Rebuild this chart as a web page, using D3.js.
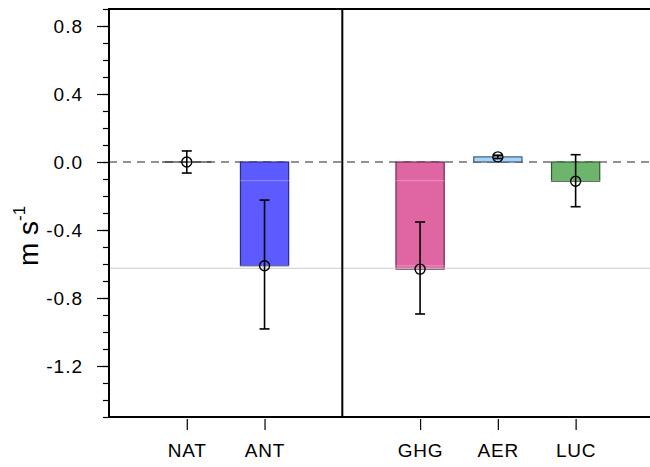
<!DOCTYPE html>
<html><head><meta charset="utf-8">
<script src="https://cdn.jsdelivr.net/npm/d3@7"></script>
<style>body{margin:0;background:#fff}svg{display:block}text{font-family:"Liberation Sans",Arial,sans-serif}</style>
</head><body><svg id="c" width="650" height="467"></svg>
<script>
const categories = ["NAT","ANT","GHG","AER","LUC"];
const positions = [1,2,4,5,6];
const values = [0.0,-0.61,-0.63,0.03,-0.113];
const errLow = [-0.065,-0.982,-0.894,0.02,-0.263];
const errHigh = [0.065,-0.224,-0.353,0.04,0.043];
const fills = ["#ffffff","#5b5bff","#e065a3","#a6d4fa","#6db56d"];
const strokes = ["#333333","#2b2b80","#6a2a4c","#3d5a78","#2e5a2e"];
const yTicks = [0.8,0.4,0.0,-0.4,-0.8,-1.2];
const yMinor = d3.range(-15,10).map(d=>d/10);
const refLines = [-0.11,-0.61];
const grayLine = -0.625;
const dividerPos = 3;

const svg = d3.select("#c");
const L=109, T=9, B=417, R=653.4;
const x = d3.scaleLinear().domain([0,7]).range([L,R]);
const y = d3.scaleLinear().domain([-1.5,0.9]).range([B,T]);
const bw = x(0.62)-x(0);

// zero dashed line
svg.append("line").attr("x1",L).attr("x2",650).attr("y1",y(0)).attr("y2",y(0))
  .attr("stroke","#6f6f6f").attr("stroke-width",1.7).attr("stroke-dasharray","8,6");

// bars
const g = svg.append("g");
categories.forEach((c,i)=>{
  const v=values[i];
  const y0=Math.min(y(0),y(v)), h=Math.abs(y(v)-y(0));
  g.append("rect").attr("x",x(positions[i])-bw/2).attr("y",y0).attr("width",bw).attr("height",Math.max(h,0.01))
    .attr("fill",fills[i]).attr("stroke",strokes[i]).attr("stroke-width",1.2);
});
// light ref lines
refLines.forEach(v=>svg.append("line").attr("x1",L).attr("x2",650).attr("y1",y(v)).attr("y2",y(v))
  .attr("stroke","#fff").attr("stroke-opacity",0.3).attr("stroke-width",1));
svg.append("line").attr("x1",L).attr("x2",650).attr("y1",y(grayLine)).attr("y2",y(grayLine))
  .attr("stroke","#cccccc").attr("stroke-width",1.2);

// error bars and circles
categories.forEach((c,i)=>{
  const cx=x(positions[i]);
  svg.append("line").attr("x1",cx).attr("x2",cx).attr("y1",y(errLow[i])).attr("y2",y(errHigh[i])).attr("stroke","#000").attr("stroke-width",1.6);
  [errLow[i],errHigh[i]].forEach(e=>svg.append("line").attr("x1",cx-5).attr("x2",cx+5).attr("y1",y(e)).attr("y2",y(e)).attr("stroke","#000").attr("stroke-width",1.6));
  svg.append("circle").attr("cx",cx).attr("cy",y(values[i])).attr("r",5).attr("fill","none").attr("stroke","#000").attr("stroke-width",1.4);
});

// frame
svg.append("line").attr("x1",L).attr("x2",650).attr("y1",T).attr("y2",T).attr("stroke","#000").attr("stroke-width",2);
svg.append("line").attr("x1",L).attr("x2",650).attr("y1",B).attr("y2",B).attr("stroke","#000").attr("stroke-width",2);
svg.append("line").attr("x1",x(dividerPos)).attr("x2",x(dividerPos)).attr("y1",T).attr("y2",B).attr("stroke","#000").attr("stroke-width",2);

// y axis
const yMin = svg.append("g").attr("transform",`translate(${L},0)`)
  .call(d3.axisLeft(y).tickValues(yMinor).tickSize(6).tickFormat(""));
const yAx = svg.append("g").attr("transform",`translate(${L},0)`)
  .call(d3.axisLeft(y).tickValues(yTicks).tickSize(12).tickPadding(14).tickFormat(d3.format(".1f")));
[yMin,yAx].forEach(a=>{a.select(".domain").remove(); a.selectAll("line").attr("stroke","#000").attr("stroke-width",1.2);});
yAx.selectAll("text").attr("font-size",19).attr("letter-spacing","1px").attr("fill","#000").text(d=>d3.format(".1f")(d).replace("−","-"));
svg.append("line").attr("x1",L).attr("x2",L).attr("y1",T-1).attr("y2",B+1).attr("stroke","#000").attr("stroke-width",2);

// x axis
const xAx = svg.append("g").attr("transform",`translate(0,${B+2})`)
  .call(d3.axisBottom(x).tickValues(positions).tickSize(11).tickPadding(14).tickFormat((d,i)=>categories[i]));
xAx.select(".domain").remove();
xAx.selectAll("line").attr("stroke","#000").attr("stroke-width",1.2);
xAx.selectAll("text").attr("font-size",19).attr("letter-spacing","0.8px").attr("fill","#000");

// y label
const yl = svg.append("text").attr("transform","translate(38,236) rotate(-90)").attr("text-anchor","middle").attr("font-size",28);
yl.append("tspan").text("m s");
yl.append("tspan").attr("dy",-13).attr("font-size",17).text("-1");
</script></body></html>
